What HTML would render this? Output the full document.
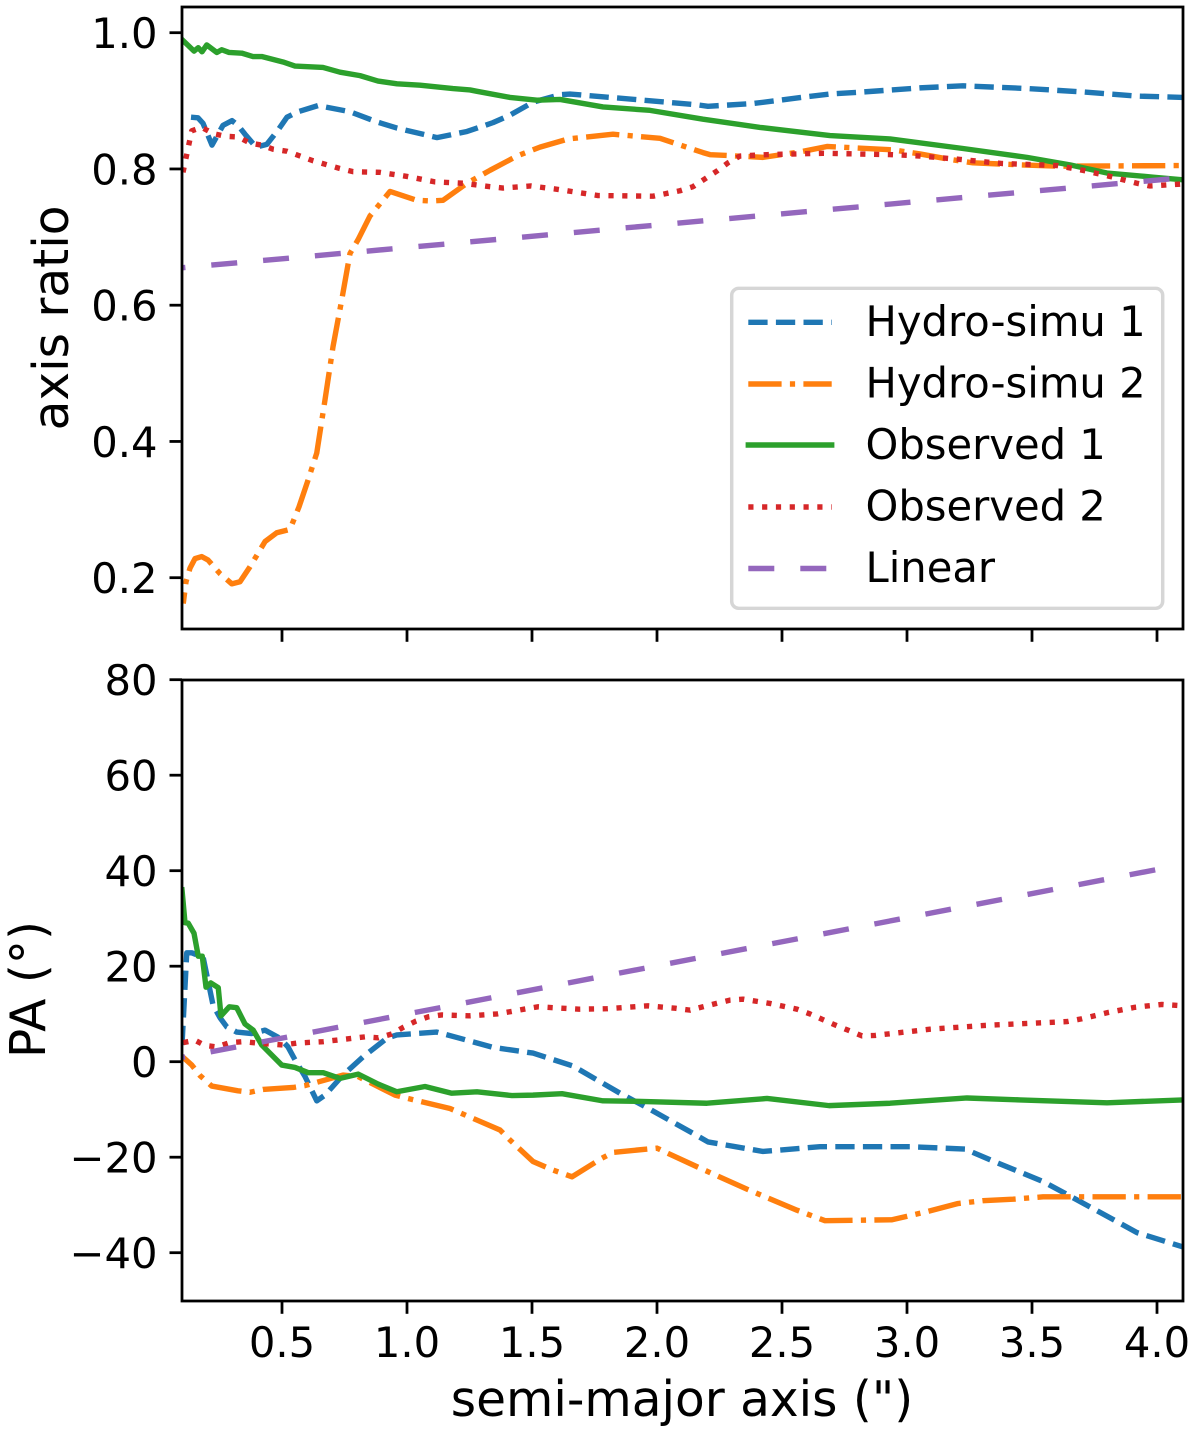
<!DOCTYPE html>
<html lang="en">
<head>
<meta charset="utf-8">
<title>Axis ratio and PA profiles</title>
<style>
html,body{margin:0;padding:0;background:#fff;width:1200px;height:1433px;overflow:hidden}
svg{display:block}
text{font-family:"DejaVu Sans","Liberation Sans",sans-serif;fill:#000}
</style>
</head>
<body>
<svg id="fig" xmlns="http://www.w3.org/2000/svg" width="1200" height="1433" viewBox="0 0 1200 1433">
  <defs>
    <clipPath id="clip-top"><rect x="182" y="7" width="1001" height="622"/></clipPath>
    <clipPath id="clip-bottom"><rect x="182" y="680" width="1001" height="621"/></clipPath>
  </defs>
  <g id="top-marks" clip-path="url(#clip-top)"></g>
  <g id="bottom-marks" clip-path="url(#clip-bottom)"></g>
  <g id="axes-layer"></g>
  <text font-size="48.6" text-anchor="middle" transform="translate(68 318) rotate(-90)">axis ratio</text>
  <text font-size="48.6" text-anchor="middle" transform="translate(45 989.5) rotate(-90)">PA (°)</text>
  <text font-size="48.6" text-anchor="middle" x="682" y="1416">semi-major axis (")</text>
  <g>
    <rect x="731.7" y="288.3" width="431" height="320" rx="7" fill="#fff" fill-opacity="0.8" stroke="#d6d6d6" stroke-width="3.47"/>
    <line x1="748.3" x2="831.7" y1="322.3" y2="322.3" stroke="#1f77b4" stroke-width="5.4" stroke-dasharray="19.3 8.3"/>
    <text font-size="41.7" x="865.5" y="336">Hydro-simu 1</text>
    <line x1="748.3" x2="831.7" y1="384" y2="384" stroke="#ff7f0e" stroke-width="5.4" stroke-dasharray="33.3 8.3 5.2 8.3"/>
    <text font-size="41.7" x="865.5" y="397.5">Hydro-simu 2</text>
    <line x1="748.3" x2="831.7" y1="445" y2="445" stroke="#2ca02c" stroke-width="5.4" stroke-linecap="square"/>
    <text font-size="41.7" x="865.5" y="459">Observed 1</text>
    <line x1="748.3" x2="831.7" y1="507" y2="507" stroke="#d62728" stroke-width="5.4" stroke-dasharray="5.2 8.6"/>
    <text font-size="41.7" x="865.5" y="520.5">Observed 2</text>
    <line x1="748.3" x2="831.7" y1="568.5" y2="568.5" stroke="#9467bd" stroke-width="5.4" stroke-dasharray="26 26"/>
    <text font-size="41.7" x="865.5" y="582">Linear</text>
  </g>
</svg>
<script>
// ---- tick data ----
const xTicks = [0.5, 1.0, 1.5, 2.0, 2.5, 3.0, 3.5, 4.0];
const xTickLabels = ["0.5", "1.0", "1.5", "2.0", "2.5", "3.0", "3.5", "4.0"];
const ratioTicks = [0.2, 0.4, 0.6, 0.8, 1.0];
const ratioTickLabels = ["0.2", "0.4", "0.6", "0.8", "1.0"];
const paTicks = [-40, -20, 0, 20, 40, 60, 80];
const paTickLabels = ["\u221240", "\u221220", "0", "20", "40", "60", "80"];

// ---- axis ratio panel ----
const ratioHydro1X = [0.136,0.164,0.184,0.22,0.264,0.30,0.324,0.352,0.396,0.439,0.484,0.52,0.564,0.644,0.772,0.88,0.96,1.12,1.2,1.24,1.344,1.412,1.504,1.612,1.652,1.944,2.164,2.204,2.384,2.6,2.692,2.824,3.052,3.224,3.484,3.704,3.92,4.104];
const ratioHydro1Y = [0.876,0.875,0.867,0.835,0.864,0.871,0.864,0.851,0.832,0.836,0.857,0.876,0.884,0.893,0.884,0.869,0.86,0.846,0.852,0.855,0.868,0.879,0.898,0.909,0.91,0.901,0.894,0.892,0.896,0.906,0.91,0.913,0.919,0.922,0.918,0.913,0.907,0.905];
const ratioHydro2X = [0.105,0.116,0.132,0.152,0.179,0.204,0.252,0.299,0.332,0.372,0.432,0.479,0.532,0.568,0.604,0.639,0.672,0.704,0.739,0.772,0.804,0.852,0.932,1.039,1.092,1.144,1.24,1.332,1.44,1.532,1.644,1.824,2.012,2.184,2.212,2.32,2.424,2.572,2.68,2.944,3.052,3.172,3.264,3.452,3.612,4.104];
const ratioHydro2Y = [0.162,0.194,0.214,0.228,0.231,0.226,0.206,0.191,0.194,0.216,0.253,0.266,0.271,0.304,0.343,0.383,0.461,0.539,0.608,0.676,0.696,0.731,0.767,0.754,0.753,0.754,0.779,0.798,0.819,0.832,0.844,0.851,0.845,0.824,0.821,0.819,0.817,0.825,0.833,0.828,0.822,0.814,0.809,0.806,0.804,0.805];
const ratioObs1X = [0.1,0.148,0.165,0.18,0.199,0.239,0.259,0.288,0.339,0.384,0.419,0.504,0.552,0.664,0.732,0.812,0.884,0.96,1.052,1.184,1.252,1.28,1.412,1.52,1.612,1.784,1.972,2.184,2.412,2.692,2.932,3.224,3.48,3.652,3.8,3.984,4.104];
const ratioObs1Y = [0.99,0.973,0.978,0.972,0.982,0.971,0.975,0.971,0.97,0.965,0.965,0.957,0.951,0.949,0.942,0.937,0.929,0.925,0.923,0.918,0.916,0.914,0.905,0.901,0.902,0.891,0.886,0.873,0.861,0.849,0.844,0.83,0.817,0.806,0.794,0.788,0.784];
const ratioObs2X = [0.104,0.124,0.139,0.179,0.224,0.272,0.324,0.372,0.419,0.464,0.52,0.572,0.624,0.728,0.784,0.892,1.0,1.112,1.224,1.332,1.384,1.496,1.604,1.764,1.984,2.092,2.144,2.24,2.284,2.332,2.44,2.664,2.94,3.052,3.212,3.38,3.6,3.704,3.812,3.92,3.972,4.104];
const ratioObs2Y = [0.795,0.83,0.856,0.861,0.852,0.848,0.847,0.838,0.835,0.829,0.826,0.819,0.812,0.801,0.796,0.795,0.789,0.781,0.779,0.774,0.772,0.775,0.77,0.761,0.76,0.768,0.774,0.797,0.809,0.819,0.821,0.823,0.821,0.819,0.814,0.808,0.805,0.798,0.789,0.779,0.775,0.778];
const ratioLinearX = [0.01, 4.1];
const ratioLinearY = [0.652, 0.787];

// ---- position angle panel ----
const paHydro1X = [0.1,0.119,0.139,0.164,0.184,0.224,0.252,0.279,0.319,0.379,0.432,0.492,0.524,0.552,0.592,0.639,0.672,0.744,0.824,0.919,0.959,1.119,1.212,1.344,1.504,1.664,1.852,1.952,2.144,2.204,2.424,2.652,3.012,3.232,3.344,3.544,3.644,3.84,3.92,4.104];
const paHydro1Y = [3.5,22.8,22.8,22.3,22,11.9,9.2,7.3,6.2,5.9,6.6,4.9,3.1,0.4,-3.1,-8.2,-7,-2.8,1,4.9,5.6,6.2,4.9,3,1.8,-0.9,-6.6,-9.4,-15,-16.8,-18.8,-17.8,-17.8,-18.3,-20.8,-25.1,-27.9,-33.5,-35.8,-38.8];
const paHydro2X = [0.048,0.105,0.139,0.172,0.219,0.324,0.372,0.424,0.544,0.592,0.744,0.804,0.952,1.004,1.172,1.212,1.372,1.408,1.504,1.584,1.66,1.78,1.824,2.0,2.04,2.16,2.36,2.56,2.672,2.94,3.08,3.204,3.304,3.424,3.544,4.104];
const paHydro2Y = [3.1,0.9,-0.7,-2.9,-5.1,-6.1,-6.4,-5.8,-5.4,-5,-2.8,-3.1,-7,-7.7,-9.8,-10.7,-14.3,-16.2,-20.9,-22.7,-24.1,-20.2,-19,-18.1,-19.1,-22,-26.7,-31.1,-33.3,-33.1,-31.4,-29.7,-29.1,-28.8,-28.3,-28.3];
const paObs1X = [0.1,0.112,0.125,0.148,0.165,0.181,0.196,0.215,0.245,0.256,0.289,0.319,0.352,0.385,0.419,0.499,0.552,0.605,0.665,0.732,0.805,0.885,0.959,1.072,1.179,1.28,1.42,1.504,1.62,1.784,1.92,2.2,2.44,2.688,2.932,3.24,3.452,3.8,4.104];
const paObs1Y = [36,29.1,29,26.9,22.1,22.1,15.6,16.5,15.5,9.6,11.5,11.3,7.9,6.6,3.5,-0.7,-1.2,-2.3,-2.3,-3.5,-2.6,-4.7,-6.3,-5.2,-6.6,-6.3,-7.1,-7,-6.7,-8.2,-8.3,-8.7,-7.7,-9.2,-8.7,-7.6,-8,-8.6,-8];
const paObs2X = [0.105,0.152,0.192,0.239,0.292,0.348,0.401,0.505,0.559,0.665,0.832,0.885,0.939,0.985,1.036,1.085,1.139,1.248,1.36,1.416,1.468,1.524,1.688,1.8,1.964,2.072,2.132,2.184,2.236,2.292,2.344,2.452,2.56,2.612,2.664,2.712,2.764,2.82,2.872,3.092,3.312,3.64,3.7,3.804,3.912,4.02,4.104];
const paObs2Y = [4,4.5,3.4,3.1,4,4.2,3.9,3.5,3.9,4.2,5.2,5,5.8,7.2,8.5,9.4,9.8,9.6,10,10.5,11,11.5,11,11.1,11.7,11.2,10.8,11.5,12.2,12.9,13.1,12.2,11,10,8.8,7.7,6.6,5.4,5.5,6.8,7.6,8.4,9,10.3,11.4,12,11.7];
const paLinearX = [0.01, 4.0];
const paLinearY = [0, 40.25];

// ---- axis functions ----
function xScale(v){ return 282 + (v - 0.5) * 250; }
function yRatio(v){ return 577.7 - (v - 0.2) * 681.25; }
function yPA(v){ return 1061.7 - v * 4.775; }

const NS = "http://www.w3.org/2000/svg";
const axesLayer = document.getElementById("axes-layer");

function drawSeries(parent, xs, ys, yFn, color, dash, name, dashOffset){
  const line = document.createElementNS(NS, "polyline");
  
  
  line.setAttribute("points", xs.map(function(x, i){ return xScale(x).toFixed(2) + "," + yFn(ys[i]).toFixed(2); }).join(" "));
  line.setAttribute("fill", "none");
  line.setAttribute("stroke", color);
  line.setAttribute("stroke-width", "5.4");
  line.setAttribute("stroke-linejoin", "round");
  if (dash) { line.setAttribute("stroke-dasharray", dash); line.setAttribute("stroke-linecap", "butt"); }
  else { line.setAttribute("stroke-linecap", "square"); }
  if (dashOffset) { line.setAttribute("stroke-dashoffset", dashOffset); }
  parent.appendChild(line);
}

function drawFrame(left, top, right, bottom, name){
  const r = document.createElementNS(NS, "rect");
  
  
  r.setAttribute("x", left);
  r.setAttribute("y", top);
  r.setAttribute("width", right - left);
  r.setAttribute("height", bottom - top);
  r.setAttribute("fill", "none");
  r.setAttribute("stroke", "#000");
  r.setAttribute("stroke-width", "2.78");
  axesLayer.appendChild(r);
}

function drawXTick(v, label, bottom){
  const px = xScale(v);
  const t = document.createElementNS(NS, "line");
  
  
  t.setAttribute("x1", px);
  t.setAttribute("x2", px);
  t.setAttribute("y1", bottom);
  t.setAttribute("y2", bottom + 12.8);
  t.setAttribute("stroke", "#000");
  t.setAttribute("stroke-width", "2.78");
  axesLayer.appendChild(t);
  if (label) {
    const s = document.createElementNS(NS, "text");
    
    
    s.setAttribute("x", px);
    s.setAttribute("y", bottom + 56);
    s.setAttribute("text-anchor", "middle");
    s.setAttribute("font-size", "41.7");
    s.textContent = label;
    axesLayer.appendChild(s);
  }
}

function drawYTick(py, label){
  const t = document.createElementNS(NS, "line");
  
  
  t.setAttribute("x1", 169.5);
  t.setAttribute("x2", 182);
  t.setAttribute("y1", py);
  t.setAttribute("y2", py);
  t.setAttribute("stroke", "#000");
  t.setAttribute("stroke-width", "2.78");
  axesLayer.appendChild(t);
  const s = document.createElementNS(NS, "text");
  
  
  s.setAttribute("x", 157.5);
  s.setAttribute("y", py + 15.5);
  s.setAttribute("text-anchor", "end");
  s.setAttribute("font-size", "41.7");
  s.textContent = label;
  axesLayer.appendChild(s);
}

const topMarks = document.getElementById("top-marks");
const bottomMarks = document.getElementById("bottom-marks");

drawSeries(topMarks, ratioHydro1X, ratioHydro1Y, yRatio, "#1f77b4", "19.3 8.3", "ratio-line-hydro-simu-1");
drawSeries(topMarks, ratioHydro2X, ratioHydro2Y, yRatio, "#ff7f0e", "33.3 8.3 5.2 8.3", "ratio-line-hydro-simu-2", 22);
drawSeries(topMarks, ratioObs1X, ratioObs1Y, yRatio, "#2ca02c", "", "ratio-line-observed-1");
drawSeries(topMarks, ratioObs2X, ratioObs2Y, yRatio, "#d62728", "5.2 8.6", "ratio-line-observed-2");
drawSeries(topMarks, ratioLinearX, ratioLinearY, yRatio, "#9467bd", "26 26", "ratio-line-linear");

drawSeries(bottomMarks, paHydro1X, paHydro1Y, yPA, "#1f77b4", "19.3 8.3", "pa-line-hydro-simu-1");
drawSeries(bottomMarks, paHydro2X, paHydro2Y, yPA, "#ff7f0e", "33.3 8.3 5.2 8.3", "pa-line-hydro-simu-2");
drawSeries(bottomMarks, paObs1X, paObs1Y, yPA, "#2ca02c", "", "pa-line-observed-1");
drawSeries(bottomMarks, paObs2X, paObs2Y, yPA, "#d62728", "5.2 8.6", "pa-line-observed-2");
drawSeries(bottomMarks, paLinearX, paLinearY, yPA, "#9467bd", "26 26", "pa-line-linear");

drawFrame(182, 7, 1183, 629, "axis-ratio-frame");
drawFrame(182, 680, 1183, 1301, "pa-frame");

xTicks.forEach(function(v, i){
  drawXTick(v, "", 629);
  drawXTick(v, xTickLabels[i], 1301);
});
ratioTicks.forEach(function(v, i){ drawYTick(yRatio(v), ratioTickLabels[i]); });
paTicks.forEach(function(v, i){ drawYTick(yPA(v), paTickLabels[i]); });
</script>
</body>
</html>
